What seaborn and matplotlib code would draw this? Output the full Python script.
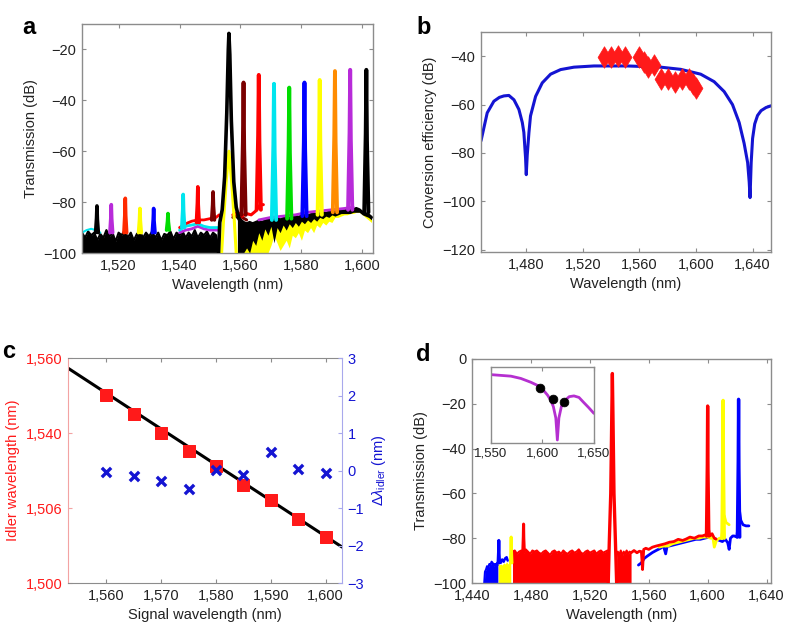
import numpy as np
import matplotlib
matplotlib.use('Agg')
import matplotlib.pyplot as plt
import matplotlib.ticker as mticker
import seaborn as sns

# ---------------- data ----------------
# panel a: signal / idler peaks of the nine traces
a_colors = ['#7a0000', '#ff0000', '#00e5ee', '#00dd00', '#0000ff', '#ffff00', '#ff8c00', '#b82bd9', '#000000']
a_idler_colors = ['#7a0000', '#ff0000', '#00e5ee', '#00dd00', '#0000ff', '#ffff00', '#ff2a00', '#b82bd9', '#000000']
a_signal_wl = [1561, 1566, 1571, 1576, 1581, 1586, 1591, 1596, 1601.3]
a_signal_db = [-33, -30, -33.5, -35, -33, -32, -28.5, -28, -28]
a_signal_base = [-85, -83, -87, -86.5, -85.5, -85, -84, -83, -84]
a_idler_wl = [1551, 1546, 1541.2, 1536.2, 1531.5, 1527, 1522.2, 1517.6, 1512.9]
a_idler_db = [-76, -74, -77, -84.5, -82.5, -82.5, -78.5, -81, -81.5]
a_idler_base = [-87, -88, -90, -91, -92, -92, -92, -92, -92]

# panel a: pump
a_pump_wl = [1552.8, 1553.2, 1554.0, 1554.8, 1555.5, 1556.0, 1556.2, 1556.5, 1557.0, 1557.8, 1558.6, 1559.4, 1560.0]
a_pump_db = [-100, -88, -83, -70, -45, -20, -13.7, -22, -48, -72, -82, -86, -88]
a_pump_in_wl = [1553.8, 1554.5, 1555.3, 1556.2, 1557.1, 1557.9, 1558.6]
a_pump_in_db = [-100, -86, -72, -60, -72, -86, -100]

# panel a: noise floor left of the pump
a_left_wl = list(range(1508, 1554))
a_left_db = [-92, -94, -91.5, -93, -92, -95, -92.5, -94, -91, -93.5, -92, -95.5, -92, -93,
             -91, -94, -92, -95, -92.5, -91.5, -94, -92, -93.5, -91.5, -94, -92, -95, -92.5,
             -93, -91.5, -94.5, -92, -93, -91.5, -94, -92, -93.5, -91, -94, -92, -93, -91.5,
             -94, -92, -93, -100]
a_bump_wl = [1540, 1542, 1544, 1546, 1548, 1550, 1552, 1553]
a_bump_red = [-90, -88.5, -87.5, -87, -87, -86.5, -86, -85]
a_bump_cyan = [-91, -89.5, -89, -88.5, -89.5, -90, -90, -90]
a_bump_purple = [-92, -91, -90.5, -89.5, -90.5, -91, -91, -91]
a_cyan_wl = [1508, 1509.5, 1511, 1512.5, 1514]
a_cyan_db = [-92, -91, -90.5, -91, -92]

# panel a: noise floor right of the pump
a_right_wl = list(range(1559, 1604))
a_right_top = [-86, -87, -88, -88.5, -88, -88.5, -88, -87.5, -88, -87.5, -87, -87.5, -87, -86.5,
               -87, -86.5, -86, -86.5, -86, -85.5, -86, -85.5, -85, -85.5, -85, -84.5, -85, -84.5,
               -84, -84.5, -84, -83.5, -84, -83.5, -83, -83.5, -83, -83.5, -83, -82.5, -83, -84,
               -84.5, -85, -86]
a_right_low = [-100, -100, -100, -98, -100, -95, -97, -92, -95, -90.5, -93, -89.5, -96, -90,
               -92, -89, -91, -88.5, -90, -88, -89.5, -87.5, -88.5, -87, -88, -86.5, -87.5, -86,
               -86.5, -85.5, -86, -85, -85.5, -85, -84.5, -84.5, -84.5, -84.5, -84, -84, -84,
               -85, -85.5, -86, -87]
a_yellow_low = [-100, -100, -100, -100, -100, -100, -100, -100, -100, -100, -100, -97, -93, -96,
                -99, -97, -95, -98, -93, -94, -92, -95, -91, -92, -90, -92, -89, -90, -88, -89,
                -87.5, -88, -86, -86, -85.5, -85, -85, -84.5, -84.5, -84, -84, -85, -86, -87, -88]
a_purple_wl = [1566, 1570, 1574, 1578, 1582, 1586, 1590, 1594, 1597]
a_purple_db = [-87, -86, -85.5, -85, -84, -83.5, -83, -82.5, -82]
a_red_wl = [1557.5, 1559, 1560.5, 1562, 1563.5, 1565, 1566.5, 1567.5]
a_red_db = [-85, -84, -85.5, -84.5, -85, -83.5, -81, -81]
a_dred_wl = [1557.5, 1559, 1560.5, 1562]
a_dred_db = [-86, -85, -86, -87]

# panel b: simulated conversion efficiency and measured points
b_curve_wl = [1448, 1452.4, 1457.1, 1461, 1464.2, 1467.7, 1471.3, 1474.8, 1477.2, 1478.3, 1479.5,
              1480, 1480.7, 1481.9, 1483, 1486.6, 1491.3, 1497.2, 1504.3, 1513.7, 1527.9, 1551.5,
              1575, 1589.2, 1603.3, 1612.8, 1619.9, 1625.8, 1630.5, 1634, 1636.5, 1637.6, 1638.2,
              1639, 1640, 1641.5, 1643.5, 1646, 1649.5, 1653]
b_curve_db = [-75, -63.4, -58.6, -57, -56.4, -56.2, -58, -62, -67.4, -71.5, -82, -89, -80.8,
              -71.5, -64.7, -56.6, -51, -47.4, -45.5, -44.5, -44, -44, -44.5, -45.4, -47.4, -50.5,
              -54.6, -60, -67.4, -76, -84, -92, -98.5, -84, -74, -68, -64.5, -62.5, -61.2, -60.5]
b_meas_wl = [1535, 1540, 1545, 1550, 1560, 1563, 1566, 1570, 1575, 1580, 1585, 1590, 1595, 1598, 1600]
b_meas_db = [-40.5, -40.5, -40, -40.5, -40.5, -42.5, -44.5, -43.5, -49.5, -49.5, -50.5, -49.5,
             -49.5, -51.5, -53]

# panel c: idler wavelength vs signal wavelength
c_signal = [1560, 1565, 1570, 1575, 1580, 1585, 1590, 1595, 1600]
c_idler = [1550.1, 1545.1, 1540.1, 1535.1, 1531.1, 1526.1, 1522.1, 1517.1, 1512.2]
c_delta = [-0.04, -0.14, -0.28, -0.5, 0.02, -0.12, 0.5, 0.04, -0.07]
c_fit_x = [1553, 1603]
c_fit_y = [1557.3, 1509.6]
c_ticks = [1500, 1520, 1540, 1560]
c_tick_labels = ['1,500', '1,506', '1,540', '1,560']

# panel d: three spectra (blue, yellow, red)
d_blue_left_wl = [1448.3, 1448.8, 1449.5, 1450.2, 1451, 1451.8, 1452.5, 1453.3, 1454, 1454.8,
                  1455.5, 1456.3, 1457, 1457.6]
d_blue_left_db = [-100, -95, -94, -92.5, -93.5, -91.5, -92, -90.5, -91, -92.5, -91.5, -92, -91, -92]
d_blue_bits_wl = [1458.8, 1459.5, 1460.5, 1461.5, 1462.5, 1463.5, 1464.2]
d_blue_bits_db = [-90, -91, -89.5, -90.5, -89, -88.5, -90]
d_yel_left_wl = [1457.8, 1458.5, 1459.5, 1460.5, 1461.5, 1462.5, 1463.5, 1464.5, 1465.5, 1466.3]
d_yel_left_db = [-91, -92, -91.5, -92, -91, -91.5, -90.5, -91.5, -90, -91]
d_red_left_wl = list(np.arange(1467.5, 1533, 1.5))
d_red_left_db = [-86, -85.5, -87, -86, -85.5, -86.5, -85, -86, -87, -85.5, -86, -85.5, -86.5,
                 -87, -86, -85.5, -86.5, -87.5, -86, -85.5, -86.5, -86, -87, -85.5, -86.5, -87,
                 -86, -85.5, -86.5, -86, -85, -86.5, -87, -86, -85.5, -86.5, -86, -85.5, -87,
                 -86, -85.5, -86.5, -86, -85.5]
d_pump_wl = [1532.5, 1533.2, 1534.2, 1534.9, 1535.3, 1535.7, 1536.4, 1537.4, 1538.2]
d_pump_db = [-100, -82, -60, -25, -6.5, -25, -60, -82, -100]
d_red_mid_wl = [1538.2, 1539, 1540, 1541, 1542, 1543, 1544, 1545, 1546, 1547, 1548]
d_red_mid_db = [-88, -86, -87.5, -85.5, -88, -86, -87, -85.5, -87, -86, -86.5]
d_red_wl = [1548, 1550, 1552, 1553.7, 1555, 1555.8, 1556.6, 1558, 1560, 1562.5, 1565, 1568,
            1571, 1574, 1577, 1580, 1583, 1585.3, 1588, 1591, 1594, 1596.4, 1598.5, 1599.4,
            1600.6, 1601.5, 1603, 1604.5, 1605.7]
d_red_db = [-86.5, -85.5, -86.5, -85.8, -86, -94, -85, -84.5, -85, -84, -83.5, -83, -82.5,
            -81.8, -81.5, -80.5, -81, -80.4, -79.5, -80, -79, -79, -78.5, -79, -76, -79, -78,
            -80, -80.4]
d_blue_wl = [1553, 1555, 1557, 1559, 1562.5, 1565, 1568, 1570, 1571.5, 1572.5, 1574, 1577, 1580,
             1583, 1586, 1589, 1592, 1595, 1598, 1601, 1604, 1605.7, 1608, 1610, 1612, 1613.6,
             1614.6, 1615.5, 1617, 1618, 1619.8, 1621.7, 1622.5, 1624, 1626, 1628]
d_blue_db = [-92, -91, -89, -88, -86.4, -85.5, -84.5, -83.5, -87, -83.5, -83.5, -83, -82.5, -82,
             -81.5, -81, -80.5, -80.5, -80, -79.5, -80, -80.4, -81, -81.5, -80.5, -82, -85, -80,
             -79, -79, -79.5, -68, -72, -74, -74.5, -74.5]
d_yel_wl = [1567, 1570, 1573, 1576, 1579, 1582, 1585, 1588, 1591, 1594, 1597, 1600, 1602, 1603.5,
            1604.5, 1606, 1608, 1609.5, 1611.3, 1612.5, 1614.6]
d_yel_db = [-84, -83.5, -83.5, -82.5, -82, -81.5, -81, -80.5, -80, -80, -79.5, -79.5, -80, -79.5,
            -84, -81, -80, -80, -70, -73, -74]
d_colors = ['#0000ff', '#ffff00', '#ff0000']
d_signal_wl = [1621, 1610.5, 1600]
d_signal_db = [-18, -18.5, -21]
d_signal_base = [-79.5, -80, -79]
d_idler_wl = [1458.2, 1466.6, 1475]
d_idler_db = [-81, -79.5, -73.7]
d_idler_base = [-91, -91, -86]

# panel d inset: phase-matching curve and three measured points
ins_wl = [1550, 1559.7, 1569.4, 1579, 1588.7, 1595, 1600, 1605, 1608, 1610.6, 1613, 1614.5,
          1616, 1618.4, 1621, 1626, 1630.6, 1635.5, 1640, 1645, 1650]
ins_db = [-10, -11, -12, -15, -20, -24, -29, -37, -43.5, -52, -67, -96, -67, -52, -45, -39, -38,
          -40, -46.5, -53.5, -61]
ins_pt_wl = [1598, 1610, 1621]
ins_pt_db = [-28, -42, -46]

# ---------------- style ----------------
sns.set_style('white')
plt.rcParams['font.family'] = ['Liberation Sans', 'DejaVu Sans']
plt.rcParams['axes.unicode_minus'] = True
plt.rcParams['mathtext.fontset'] = 'custom'
plt.rcParams['mathtext.rm'] = 'Liberation Sans'
plt.rcParams['mathtext.it'] = 'Liberation Sans:italic'

BOX = '#8c8c8c'
TXT = '#222222'
FS = 10.5


def comma_fmt(v, pos):
    return f'{v:,.0f}'.replace('-', '\u2212')


def style_box(ax):
    for s in ax.spines.values():
        s.set_color(BOX)
        s.set_linewidth(1.0)
    ax.tick_params(direction='in', length=3, width=0.8, color=BOX, top=True, right=True,
                   bottom=True, left=True, labelsize=FS, labelcolor=TXT, pad=4)


def line(ax, x, y, color, lw=2.2, z=2):
    sns.lineplot(x=x, y=y, ax=ax, color=color, lw=lw, sort=False, estimator=None, zorder=z)


def spike(ax, x0, peak, base, half, color, lw=2.2, z=3):
    xs = [x0 - half, x0 - half * 0.3, x0, x0 + half * 0.3, x0 + half]
    ys = [base, base + (peak - base) * 0.55, peak, base + (peak - base) * 0.5, base]
    line(ax, xs, ys, color, lw, z)


fig = plt.figure(figsize=(7.88, 6.3), dpi=100)

# ---------------- panel a ----------------
ax = fig.add_axes([0.1041, 0.5984, 0.3693, 0.3635])
ax.fill_between(a_left_wl, -100, a_left_db, color='black', lw=0, zorder=2)
line(ax, a_left_wl, a_left_db, 'black', lw=1.5, z=2)
line(ax, a_cyan_wl, a_cyan_db, '#00e5ee', lw=1.5, z=2)
line(ax, a_bump_wl, a_bump_purple, '#b82bd9', lw=2, z=2)
line(ax, a_bump_wl, a_bump_cyan, '#00e5ee', lw=2, z=2)
line(ax, a_bump_wl, a_bump_red, '#ff0000', lw=2, z=2)
for wl, db, base, c in zip(a_idler_wl, a_idler_db, a_idler_base, a_idler_colors):
    spike(ax, wl, db, base, 0.45, c, lw=2.6)
ax.fill_between(a_right_wl, a_yellow_low, a_right_top, color='#ffff00', lw=0, zorder=2)
ax.fill_between(a_right_wl, a_right_low, a_right_top, color='black', lw=0, zorder=2)
line(ax, a_right_wl, a_right_top, 'black', lw=2.2, z=2)
line(ax, a_purple_wl, a_purple_db, '#b82bd9', lw=2, z=2)
line(ax, a_dred_wl, a_dred_db, '#7a0000', lw=2.2, z=2)
line(ax, a_red_wl, a_red_db, '#ff0000', lw=2.2, z=2)
for wl, db, base, c in zip(a_signal_wl, a_signal_db, a_signal_base, a_colors):
    spike(ax, wl, db, base, 0.7, c, lw=2.8)
line(ax, a_pump_in_wl, a_pump_in_db, '#ffff00', lw=2.2, z=4)
line(ax, a_pump_wl, a_pump_db, 'black', lw=2.6, z=5)
ax.set_xlim(1508, 1603.5)
ax.set_ylim(-100, -10)
ax.set_xticks([1520, 1540, 1560, 1580, 1600])
ax.set_yticks([-20, -40, -60, -80, -100])
ax.xaxis.set_major_formatter(mticker.FuncFormatter(comma_fmt))
ax.yaxis.set_major_formatter(mticker.FuncFormatter(comma_fmt))
ax.set_xlabel('Wavelength (nm)', fontsize=FS, color=TXT)
ax.set_ylabel('Transmission (dB)', fontsize=FS, color=TXT)
style_box(ax)

# ---------------- panel b ----------------
ax = fig.add_axes([0.6104, 0.6, 0.368, 0.349])
line(ax, b_curve_wl, b_curve_db, '#1414d2', lw=2.2)
sns.scatterplot(x=b_meas_wl, y=b_meas_db, ax=ax, marker='d', s=120, color='#ff1a1a',
                edgecolor='#ff1a1a', linewidth=0.5, zorder=4)
ax.set_xlim(1448, 1653)
ax.set_ylim(-121, -30)
ax.set_xticks([1480, 1520, 1560, 1600, 1640])
ax.set_yticks([-40, -60, -80, -100, -120])
ax.xaxis.set_major_formatter(mticker.FuncFormatter(comma_fmt))
ax.yaxis.set_major_formatter(mticker.FuncFormatter(comma_fmt))
ax.set_xlabel('Wavelength (nm)', fontsize=FS, color=TXT)
ax.set_ylabel('Conversion efficiency (dB)', fontsize=FS, color=TXT)
style_box(ax)

# ---------------- panel c ----------------
ax = fig.add_axes([0.0863, 0.0746, 0.3477, 0.3571])
ax2 = ax.twinx()
line(ax, c_fit_x, c_fit_y, 'black', lw=2.2, z=2)
sns.scatterplot(x=c_signal, y=c_idler, ax=ax, marker='s', s=80, color='#ff1a1a',
                edgecolor='#ff1a1a', zorder=3)
sns.scatterplot(x=c_signal, y=c_delta, ax=ax2, marker='x', s=45, color='#1414d2',
                linewidth=2.4, zorder=3)
ax.set_xlim(1553, 1603)
ax.set_ylim(1500, 1560)
ax2.set_ylim(-3, 3)
ax.set_xticks([1560, 1570, 1580, 1590, 1600])
ax.xaxis.set_major_formatter(mticker.FuncFormatter(comma_fmt))
ax.set_yticks(c_ticks)
ax.set_yticklabels(c_tick_labels)
ax2.set_yticks([-3, -2, -1, 0, 1, 2, 3])
ax2.yaxis.set_major_formatter(mticker.FuncFormatter(comma_fmt))
for s in ['top', 'bottom']:
    ax.spines[s].set_color(BOX)
ax.spines['left'].set_color('#f3a3a3')
ax.spines['right'].set_visible(False)
for s in ['top', 'bottom', 'left']:
    ax2.spines[s].set_visible(False)
ax2.spines['right'].set_color('#a8a8ec')
ax.tick_params(axis='x', direction='in', length=3, color=BOX, top=True, bottom=True,
               labelsize=FS, labelcolor=TXT, pad=4)
ax.tick_params(axis='y', direction='in', length=3, color='#f3a3a3', left=True, right=False,
               labelsize=FS, labelcolor='#ff1a1a', pad=4)
ax2.tick_params(axis='y', direction='in', length=3, color='#a8a8ec', right=True, left=False,
                labelsize=FS, labelcolor='#1414d2', pad=4)
ax.set_xlabel('Signal wavelength (nm)', fontsize=FS, color=TXT)
ax.set_ylabel('Idler wavelength (nm)', fontsize=FS, color='#ff1a1a')
ax2.set_ylabel(r'$\Delta\lambda_{\mathrm{idler}}$ (nm)', fontsize=FS, color='#1414d2')

# ---------------- panel d ----------------
ax = fig.add_axes([0.599, 0.0746, 0.3794, 0.3556])
ax.fill_between(d_blue_left_wl, -100, d_blue_left_db, color='#0000ff', lw=0, zorder=2)
line(ax, d_blue_left_wl, d_blue_left_db, '#0000ff', lw=1.5)
line(ax, d_blue_bits_wl, d_blue_bits_db, '#0000ff', lw=1.8)
ax.fill_between(d_yel_left_wl, -100, d_yel_left_db, color='#ffff00', lw=0, zorder=2)
ax.fill_between(d_red_left_wl, -100, d_red_left_db, color='#ff0000', lw=0, zorder=2)
line(ax, d_red_left_wl, d_red_left_db, '#ff0000', lw=1.5)
ax.fill_between(d_red_mid_wl, -100, d_red_mid_db, color='#ff0000', lw=0, zorder=2)
line(ax, d_red_mid_wl, d_red_mid_db, '#ff0000', lw=1.5)
line(ax, d_blue_wl, d_blue_db, '#0000ff', lw=2)
line(ax, d_yel_wl, d_yel_db, '#ffff00', lw=2)
line(ax, d_red_wl, d_red_db, '#ff0000', lw=2)
for wl, db, base, c in zip(d_signal_wl, d_signal_db, d_signal_base, d_colors):
    spike(ax, wl, db, base, 0.8, c, lw=2.4)
for wl, db, base, c in zip(d_idler_wl, d_idler_db, d_idler_base, d_colors):
    spike(ax, wl, db, base, 0.5, c, lw=2.2)
line(ax, d_pump_wl, d_pump_db, '#ff0000', lw=2.4, z=4)
ax.set_xlim(1440, 1643)
ax.set_ylim(-100, 0)
ax.set_xticks([1440, 1480, 1520, 1560, 1600, 1640])
ax.set_yticks([0, -20, -40, -60, -80, -100])
ax.xaxis.set_major_formatter(mticker.FuncFormatter(comma_fmt))
ax.yaxis.set_major_formatter(mticker.FuncFormatter(comma_fmt))
ax.set_xlabel('Wavelength (nm)', fontsize=FS, color=TXT)
ax.set_ylabel('Transmission (dB)', fontsize=FS, color=TXT)
style_box(ax)

# inset
axi = fig.add_axes([0.623, 0.2968, 0.1307, 0.1206])
line(axi, ins_wl, ins_db, '#b52fd0', lw=2)
sns.scatterplot(x=ins_pt_wl, y=ins_pt_db, ax=axi, s=40, color='black', edgecolor='black', zorder=4)
axi.set_xlim(1550, 1650)
axi.set_ylim(-100, 0)
axi.set_xticks([1550, 1600, 1650])
axi.set_yticks([])
axi.xaxis.set_major_formatter(mticker.FuncFormatter(comma_fmt))
style_box(axi)
axi.tick_params(labelsize=9.5, left=False, right=False, pad=3)

# panel letters
for x, y, s in [(0.028, 0.975, 'a'), (0.528, 0.975, 'b'), (0.003, 0.46, 'c'), (0.528, 0.455, 'd')]:
    fig.text(x, y, s, fontsize=17, fontweight='bold', va='top', ha='left', color='black')

fig.savefig('out.png', dpi=100)
